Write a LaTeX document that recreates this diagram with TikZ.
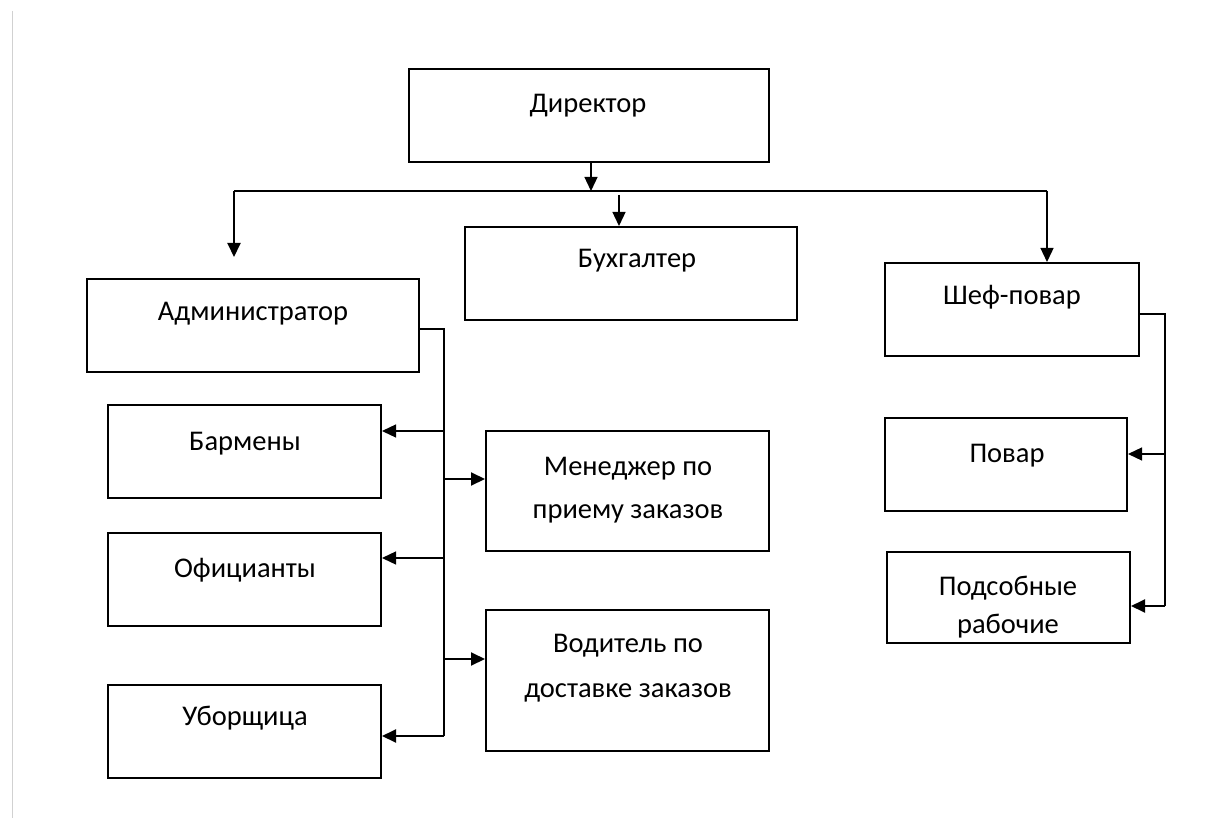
\documentclass[tikz,border=0pt]{standalone}
\usepackage{fontspec}
\setmainfont{Carlito}
\usetikzlibrary{arrows.meta}
\tikzset{
  box/.style={draw=black, line width=2pt, fill=white, inner sep=0pt, rectangle},
  txt/.style={anchor=base, inner sep=0pt, font=\fontsize{28.5}{40}\selectfont, text=black},
  conn/.style={draw=black, line width=2pt},
  thin/.style={draw=black, line width=1.3pt},
  arr/.style={-{Triangle[length=14pt,width=13pt]}},
}
\begin{document}
\begin{tikzpicture}[x=1pt,y=-1pt]
\useasboundingbox[fill=white] (0,0) rectangle (1231,818);
\draw[black!18, line width=1.5pt] (12.5,11) -- (12.5,818);

% boxes
\node[box, minimum width=360, minimum height=93] (dir) at (589,115.5) {};
\node[box, minimum width=332, minimum height=93] (buh) at (631,273.5) {};
\node[box, minimum width=332, minimum height=93] (adm) at (253,325.5) {};
\node[box, minimum width=254, minimum height=93] (chef) at (1012,309.5) {};
\node[box, minimum width=273, minimum height=93] (bar) at (244.5,451.5) {};
\node[box, minimum width=273, minimum height=93] (ofi) at (244.5,579.5) {};
\node[box, minimum width=273, minimum height=93] (ubo) at (244.5,731.5) {};
\node[box, minimum width=283, minimum height=120] (men) at (627.5,491) {};
\node[box, minimum width=283, minimum height=141] (vod) at (627.5,680) {};
\node[box, minimum width=242, minimum height=93] (pov) at (1006,464.5) {};
\node[box, minimum width=243, minimum height=91] (pod) at (1008.5,597.5) {};

% texts
\node[txt] (dirt) at (588,113) {Директор};
\node[txt] (buht) at (637,268) {Бухгалтер};
\node[txt] (admt) at (253,320) {Администратор};
\node[txt] (cheft) at (1012,305) {Шеф-повар};
\node[txt] (bart) at (245,450) {Бармены};
\node[txt] (ofit) at (245,577) {Официанты};
\node[txt] (ubot) at (245,725) {Уборщица};
\node[txt] (ment1) at (628,475) {Менеджер по};
\node[txt] (ment2) at (628,518) {приему заказов};
\node[txt] (vodt1) at (628,652) {Водитель по};
\node[txt] (vodt2) at (628,697) {доставке заказов};
\node[txt] (povt) at (1007,462) {Повар};
\node[txt] (podt1) at (1008,595) {Подсобные};
\node[txt] (podt2) at (1008,633) {рабочие};

% top level connectors
\coordinate (hl) at (234,191);
\coordinate (hr) at (1047,191);
\coordinate (dtop) at (591,191);
\coordinate (btop) at (619,195);
\draw[conn] (hl) -- (hr);
\draw[thin, arr] (dir.south -| dtop) -- (dtop);
\draw[conn, arr] (hl) -- (234,257);
\draw[thin, arr] (hr) -- (hr |- chef.north);
\draw[thin, arr] (btop) -- (btop |- buh.north);

% administrator bus
\coordinate (ab) at (444,329);
\draw[conn] (adm.east |- ab) -- (ab) -- (444,736);
\draw[thin, arr] (444,431) -- (bar.east |- 0,431);
\draw[thin, arr] (444,558) -- (ofi.east |- 0,558);
\draw[conn, arr] (444,736) -- (ubo.east |- 0,736);
\draw[conn, arr] (444,479) -- (men.west |- 0,479);
\draw[conn, arr] (444,659) -- (vod.west |- 0,659);

% chef bus
\coordinate (cb) at (1165,314);
\draw[conn] (chef.east |- cb) -- (cb) -- (1165,606);
\draw[thin, arr] (1165,454) -- (pov.east |- 0,454);
\draw[conn, arr] (1165,606) -- (pod.east |- 0,606);
\end{tikzpicture}
\end{document}
